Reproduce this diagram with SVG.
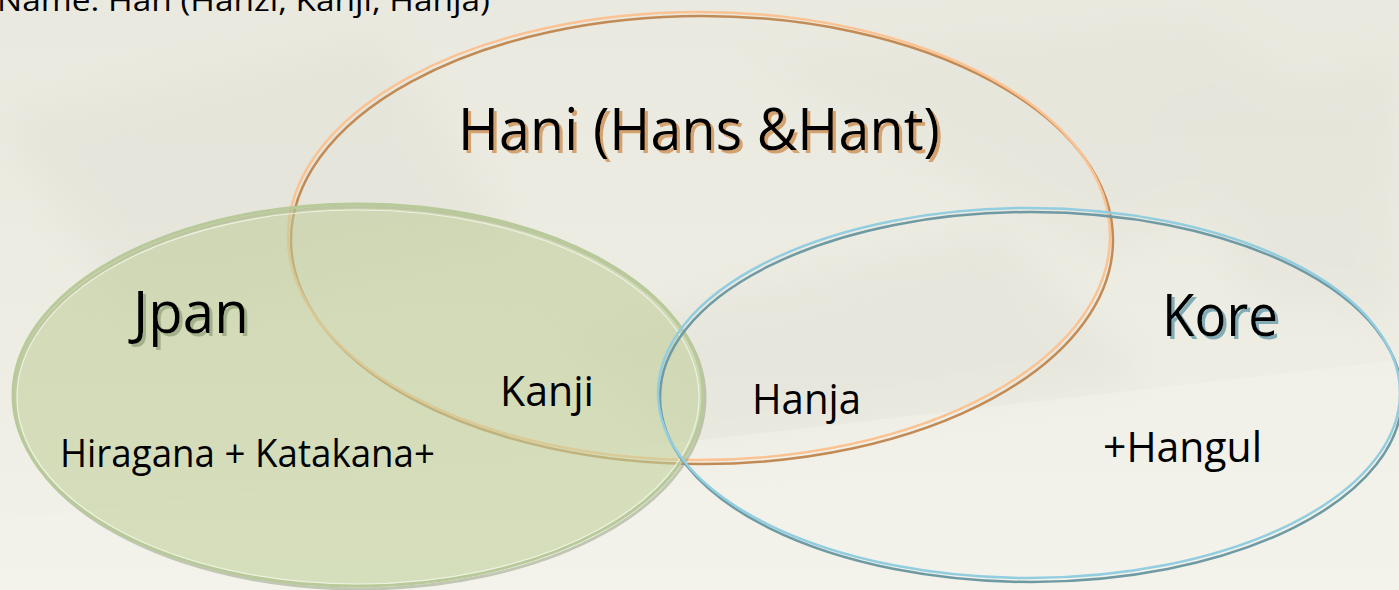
<svg xmlns="http://www.w3.org/2000/svg" width="1399" height="590" viewBox="0 0 1399 590">
  <defs>
    <style>
      text { font-family: "Open Sans", "Noto Sans", "Liberation Sans", sans-serif; fill: #000; }
      .big { font-size: 58px; }
      .mid { font-size: 42px; }
      .small { font-size: 38px; }
    </style>
    <linearGradient id="bg" x1="0" y1="0" x2="0" y2="1">
      <stop offset="0" stop-color="#eae9df"/>
      <stop offset="0.6" stop-color="#eeede4"/>
      <stop offset="1" stop-color="#f2f2ea"/>
    </linearGradient>
    <linearGradient id="greenFill" x1="0" y1="0" x2="0" y2="1">
      <stop offset="0" stop-color="#bccb96" stop-opacity="0.55"/>
      <stop offset="1" stop-color="#c3d19c" stop-opacity="0.6"/>
    </linearGradient>
    <filter id="soft" x="-10%" y="-10%" width="120%" height="120%">
      <feGaussianBlur stdDeviation="18"/>
    </filter>
    <!-- coloured drop shadows for the set titles -->
    <filter id="shadowOrange" x="-5%" y="-20%" width="110%" height="140%">
      <feOffset in="SourceAlpha" dx="3" dy="3" result="o"/>
      <feFlood flood-color="#d4a26e"/>
      <feComposite in2="o" operator="in" result="s"/>
      <feMerge><feMergeNode in="s"/><feMergeNode in="SourceGraphic"/></feMerge>
    </filter>
    <filter id="shadowGreen" x="-5%" y="-20%" width="110%" height="140%">
      <feOffset in="SourceAlpha" dx="3" dy="3" result="o"/>
      <feFlood flood-color="#a3b18b"/>
      <feComposite in2="o" operator="in" result="s"/>
      <feMerge><feMergeNode in="s"/><feMergeNode in="SourceGraphic"/></feMerge>
    </filter>
    <filter id="shadowBlue" x="-5%" y="-20%" width="110%" height="140%">
      <feOffset in="SourceAlpha" dx="3" dy="3" result="o"/>
      <feFlood flood-color="#82abb5"/>
      <feComposite in2="o" operator="in" result="s"/>
      <feMerge><feMergeNode in="s"/><feMergeNode in="SourceGraphic"/></feMerge>
    </filter>
  </defs>

  <!-- paper background -->
  <rect width="1399" height="590" fill="url(#bg)"/>
  <g opacity="0.25" filter="url(#soft)">
    <polygon points="0,120 380,40 520,240 140,330" fill="#d8d7cb"/>
    <polygon points="760,60 1200,20 1399,140 1100,260" fill="#dcdbd0"/>
    <polygon points="560,330 1000,230 1150,380 700,470" fill="#d6d5ca"/>
    <polygon points="1150,110 1399,60 1399,320 1250,300" fill="#d9d8cd"/>
  </g>
  <polygon points="0,520 700,440 1399,360 1399,590 0,590" fill="#f4f4ec" opacity="0.5"/>

  <!-- heading line (clipped at the top edge) -->
  <text x="-3" y="11" font-size="30" textLength="493" lengthAdjust="spacingAndGlyphs">Name: Han (Hanzi, Kanji, Hanja)</text>

  <!-- Hani set -->
  <g id="hani">
    <ellipse cx="702" cy="240" rx="411" ry="224" fill="none" stroke="#c28b55" stroke-width="2.5"/>
    <ellipse cx="699" cy="236" rx="411" ry="224" fill="none" stroke="#fbc393" stroke-width="2.5"/>
  </g>

  <!-- Jpan set -->
  <g id="jpan">
    <ellipse cx="360" cy="398" rx="345" ry="191" fill="none" stroke="#8f9c7c" stroke-width="3" opacity="0.5"/>
    <ellipse cx="358" cy="395" rx="345" ry="191" fill="url(#greenFill)" stroke="#b8c99a" stroke-width="3"/>
    <ellipse cx="358" cy="397" rx="341" ry="187" fill="none" stroke="#f4f6ea" stroke-width="1.2" opacity="0.8"/>
  </g>

  <!-- Kore set -->
  <g id="kore">
    <ellipse cx="1031" cy="397" rx="371" ry="185" fill="none" stroke="#6f9aa3" stroke-width="2.5"/>
    <ellipse cx="1029" cy="393" rx="371" ry="185" fill="none" stroke="#93cde0" stroke-width="2.5"/>
  </g>

  <!-- set titles -->
  <text id="label-hani" class="big" x="458" y="150" textLength="482" lengthAdjust="spacingAndGlyphs" filter="url(#shadowOrange)">Hani (Hans &amp;Hant)</text>
  <text id="label-jpan" class="big" x="133" y="333" textLength="116" lengthAdjust="spacingAndGlyphs" filter="url(#shadowGreen)">Jpan</text>
  <text id="label-kore" class="big" x="1162" y="336" textLength="116" lengthAdjust="spacingAndGlyphs" filter="url(#shadowBlue)">Kore</text>

  <!-- region texts -->
  <text class="mid" x="500" y="406" textLength="94" lengthAdjust="spacingAndGlyphs">Kanji</text>
  <text class="mid" x="752" y="414" textLength="109" lengthAdjust="spacingAndGlyphs">Hanja</text>
  <text class="small" x="60" y="467" textLength="375" lengthAdjust="spacingAndGlyphs">Hiragana + Katakana+</text>
  <text class="mid" x="1103" y="462" textLength="159" lengthAdjust="spacingAndGlyphs">+Hangul</text>
</svg>
